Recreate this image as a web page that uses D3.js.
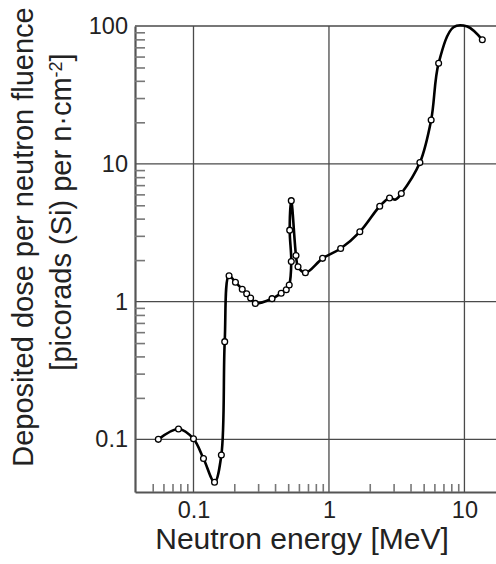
<!DOCTYPE html>
<html>
<head>
<meta charset="utf-8">
<script src="https://cdn.jsdelivr.net/npm/d3@7"></script>
<style>
	body { margin: 0; background: #fff; }
	svg { display: block; font-family: "Liberation Sans", Arial, sans-serif; }
</style>
</head>
<body>
<div id="chart"></div>
<script>
// Neutron energy [MeV] and deposited dose per fluence [picorads (Si) per n/cm2]
const energy = [0.055, 0.0775, 0.100, 0.1185, 0.143, 0.1606, 0.170, 0.183, 0.204, 0.229,
	0.247, 0.264, 0.286, 0.380, 0.444, 0.484, 0.509, 0.527, 0.513, 0.527,
	0.571, 0.591, 0.670, 0.897, 1.22, 1.69, 2.37, 2.80, 3.10, 3.42,
	4.69, 5.68, 6.45, 8.3, 10.5, 13.55];
const dose = [0.100, 0.119, 0.101, 0.0726, 0.0489, 0.077, 0.512, 1.54, 1.38, 1.23,
	1.14, 1.06, 0.97, 1.05, 1.15, 1.22, 1.32, 1.95, 3.3, 5.4,
	2.16, 1.79, 1.62, 2.06, 2.43, 3.21, 4.92, 5.65, 5.5, 6.09,
	10.2, 20.8, 53.7, 98, 99, 79.4];
// 1 = measured point (open circle), 0 = curve knot only
const marked = [1, 1, 1, 1, 1, 1, 1, 1, 1, 1,
	1, 1, 1, 1, 1, 1, 1, 1, 1, 1,
	1, 1, 1, 1, 1, 1, 1, 1, 0, 1,
	1, 1, 1, 0, 0, 1];

const xMajor = [0.1, 1, 10];
const xLabels = ["0.1", "1", "10"];
const yMajor = [0.1, 1, 10, 100];
const yLabels = ["0.1", "1", "10", "100"];
const minorSteps = [2, 3, 4, 5, 6, 7, 8, 9];

const width = 496, height = 564;
const margin = {top: 26, right: 0, bottom: 72, left: 135};
const bottom = height - margin.bottom;

const x = d3.scaleLog([0.037, 17.1], [margin.left, width - margin.right]);
const y = d3.scaleLog([0.0415, 100], [bottom, margin.top]);

// minor ticks: 2..9 in every decade inside the frame
const xMinor = [0.01, 0.1, 1].flatMap(p => minorSteps.map(s => +(s * p).toPrecision(3)))
	.filter(v => v > 0.04 && v < 17);
const yMinor = [0.1, 1, 10].flatMap(p => minorSteps.map(s => +(s * p).toPrecision(3)));

const svg = d3.select("#chart").append("svg")
	.attr("width", width).attr("height", height);

// grid
const grid = svg.append("g").attr("stroke", "#4a4a4a").attr("stroke-width", 1.3);
grid.selectAll("line.h").data(yMajor).join("line")
	.attr("class", "h")
	.attr("x1", margin.left).attr("x2", width)
	.attr("y1", d => y(d)).attr("y2", d => y(d));
grid.selectAll("line.v").data(xMajor).join("line")
	.attr("class", "v")
	.attr("x1", d => x(d)).attr("x2", d => x(d))
	.attr("y1", y(100)).attr("y2", bottom);

// minor ticks pointing into the plot, plus the axis lines
const axisX = svg.append("g")
	.attr("transform", `translate(0,${bottom})`)
	.call(d3.axisBottom(x).tickValues(xMinor).tickSize(-8).tickSizeOuter(0).tickFormat(""));
const axisY = svg.append("g")
	.attr("transform", `translate(${margin.left},0)`)
	.call(d3.axisLeft(y).tickValues(yMinor).tickSize(-10).tickSizeOuter(0).tickFormat(""));

for (const a of [axisX, axisY]) {
	a.select(".domain").attr("stroke", "#555").attr("stroke-width", 2.2);
	a.selectAll(".tick line").attr("stroke", "#777").attr("stroke-width", 1.6);
}

// major labels
const labelsX = svg.append("g")
	.attr("transform", `translate(0,${bottom})`)
	.call(d3.axisBottom(x).tickValues(xMajor).tickSize(0).tickPadding(9)
		.tickFormat((d, i) => xLabels[i]));
const labelsY = svg.append("g")
	.attr("transform", `translate(${margin.left},0)`)
	.call(d3.axisLeft(y).tickValues(yMajor).tickSize(0).tickPadding(7)
		.tickFormat((d, i) => yLabels[i]));

for (const a of [labelsX, labelsY]) {
	a.select(".domain").remove();
	a.attr("font-family", null).attr("font-size", 23.5);
	a.selectAll("text").attr("fill", "#222");
}

// curve and points
const pts = energy.map((e, i) => ({e, d: dose[i], m: marked[i]}));

const line = d3.line()
	.x(p => x(p.e)).y(p => y(p.d))
	.curve(d3.curveCatmullRom.alpha(0.5));

svg.append("path")
	.datum(pts)
	.attr("fill", "none").attr("stroke", "#000").attr("stroke-width", 2.6)
	.attr("stroke-linejoin", "round")
	.attr("d", line);

svg.append("g").selectAll("circle")
	.data(pts.filter(p => p.m))
	.join("circle")
	.attr("cx", p => x(p.e)).attr("cy", p => y(p.d))
	.attr("r", 2.9)
	.attr("fill", "#fff").attr("stroke", "#000").attr("stroke-width", 1.3);

// titles
svg.append("text")
	.attr("x", 302).attr("y", 549)
	.attr("text-anchor", "middle").attr("font-size", 30).attr("fill", "#222")
	.text("Neutron energy [MeV]");

svg.append("text")
	.attr("transform", "translate(33,237) rotate(-90)")
	.attr("text-anchor", "middle").attr("font-size", 29).attr("fill", "#222")
	.text("Deposited dose per neutron fluence");

const unit = svg.append("text")
	.attr("transform", "translate(71,212) rotate(-90)")
	.attr("text-anchor", "middle").attr("font-size", 29).attr("fill", "#222");
unit.append("tspan").text("[picorads (Si) per n\u00b7cm");
unit.append("tspan").attr("dy", "-0.5em").attr("font-size", "0.62em").text("-2");
unit.append("tspan").attr("dy", "0.31em").text("]");
</script>
</body>
</html>
